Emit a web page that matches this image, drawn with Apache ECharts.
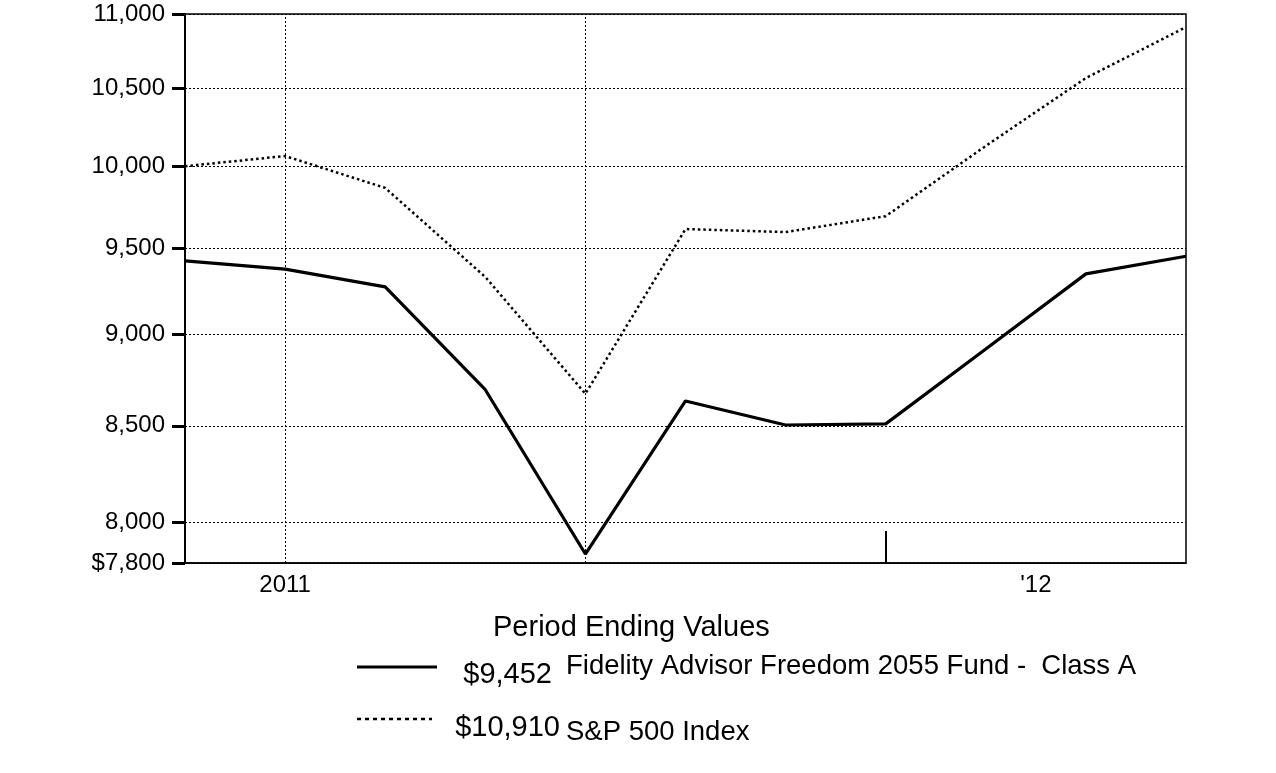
<!DOCTYPE html>
<html>
<head>
<meta charset="utf-8">
<script src="https://cdn.jsdelivr.net/npm/echarts@6/dist/echarts.min.js"></script>
<style>
html,body{margin:0;padding:0;background:#fff;}
#chart{width:1276px;height:773px;}
</style>
</head>
<body>
<div id="chart"></div>
<script>
// Period index (monthly points)
var periods = [0, 1, 2, 3, 4, 5, 6, 7, 8, 9, 10];
var fundValues = [9425, 9376, 9272, 8694, 7844, 8633, 8504, 8510, 8918, 9348, 9452];
var spValues = [10000, 10064, 9865, 9330, 8672, 9614, 9596, 9692, 10128, 10568, 10910];
var yTickValues = [7800, 8000, 8500, 9000, 9500, 10000, 10500, 11000];
var xLabelValues = [1, 8.5];
var xLabelTexts = ['2011', "'12"];
var xGridValues = [1, 4];
var xMarkTick = [7];
var fundName = 'Fidelity Advisor Freedom 2055 Fund -  Class A';
var spName = 'S&P 500 Index';
var legendTitle = 'Period Ending Values';

function fmt(v) {
  return v.toString().replace(/\B(?=(\d{3})+(?!\d))/g, ',');
}

var FONT = '"Liberation Sans", Arial, sans-serif';
var chart = echarts.init(document.getElementById('chart'), null, {renderer: 'canvas'});

function pairs(vals) {
  return periods.map(function (p, i) { return [p, vals[i]]; });
}

var option = {
  animation: false,
  backgroundColor: '#fff',
  grid: {
    left: 185, top: 14, right: 90, bottom: 210,
    show: true, borderColor: '#000', borderWidth: 1.5, backgroundColor: 'transparent'
  },
  xAxis: {
    type: 'value', min: 0, max: 10,
    axisLine: {show: true, onZero: false, lineStyle: {color: '#000', width: 1.5}},
    axisTick: {show: true, customValues: xMarkTick, inside: true, length: 32, lineStyle: {color: '#000', width: 2}},
    axisLabel: {
      show: true, customValues: xLabelValues, margin: 10,
      fontFamily: FONT, fontSize: 24, color: '#000',
      formatter: function (v) {
        var idx = xLabelValues.indexOf(v);
        return idx >= 0 ? xLabelTexts[idx] : '';
      }
    },
    splitLine: {show: false}
  },
  yAxis: {
    type: 'log', logBase: 10, min: 7800, max: 11000,
    axisLine: {show: true, lineStyle: {color: '#000', width: 2}},
    axisTick: {show: true, customValues: yTickValues, length: 13, lineStyle: {color: '#000', width: 3}},
    axisLabel: {
      show: true, customValues: yTickValues, margin: 20,
      fontFamily: FONT, fontSize: 24, color: '#000',
      formatter: function (v) {
        var r = Math.round(v);
        return (r === yTickValues[0] ? '$' : '') + fmt(r);
      }
    },
    splitLine: {show: true, lineStyle: {color: '#000', width: 1, type: [2, 2]}}
  },
  series: [
    {
      name: spName, type: 'line', data: pairs(spValues), symbol: 'none',
      lineStyle: {color: '#000', width: 2.5, type: [2.5, 3]},
      z: 3,
      markLine: {
        silent: true, symbol: 'none', label: {show: false},
        lineStyle: {color: '#000', width: 1, type: [2, 2]},
        data: xGridValues.map(function (v) { return {xAxis: v}; })
      }
    },
    {
      name: fundName, type: 'line', data: pairs(fundValues), symbol: 'none',
      lineStyle: {color: '#000', width: 3.2, type: 'solid'},
      z: 4
    }
  ],
  graphic: [
    {type: 'text', style: {x: 493, y: 628, text: legendTitle, fontFamily: FONT, fontSize: 29, fill: '#000', verticalAlign: 'middle', align: 'left'}},
    {type: 'line', shape: {x1: 357, y1: 667, x2: 437, y2: 667}, style: {stroke: '#000', lineWidth: 3}},
    {type: 'text', style: {x: 552, y: 675, text: '$' + fmt(fundValues[fundValues.length - 1]), fontFamily: FONT, fontSize: 29, fill: '#000', verticalAlign: 'middle', align: 'right'}},
    {type: 'text', style: {x: 566, y: 666, text: fundName, fontFamily: FONT, fontSize: 27.5, fill: '#000', verticalAlign: 'middle', align: 'left'}},
    {type: 'line', shape: {x1: 357, y1: 719, x2: 432, y2: 719}, style: {stroke: '#000', lineWidth: 2.5, lineDash: [4, 4]}},
    {type: 'text', style: {x: 560, y: 728, text: '$' + fmt(spValues[spValues.length - 1]), fontFamily: FONT, fontSize: 29, fill: '#000', verticalAlign: 'middle', align: 'right'}},
    {type: 'text', style: {x: 566, y: 732, text: spName, fontFamily: FONT, fontSize: 27.5, fill: '#000', verticalAlign: 'middle', align: 'left'}}
  ]
};
chart.setOption(option);
</script>
</body>
</html>
